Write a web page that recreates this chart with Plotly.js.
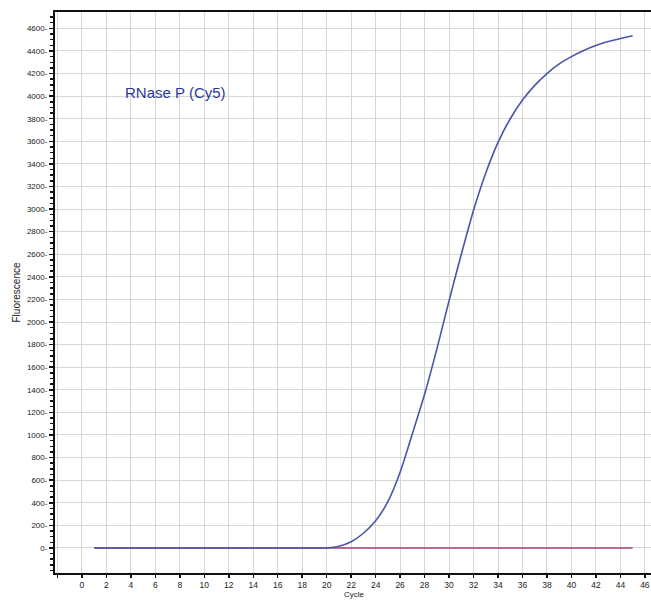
<!DOCTYPE html>
<html>
<head>
<meta charset="utf-8">
<script src="https://cdn.plot.ly/plotly-3.0.1.min.js"></script>
<style>html,body{margin:0;padding:0;background:#fff;}#chart{width:651px;height:600px;}</style>
</head>
<body>
<div id="chart"></div>
<script>
// Cycle numbers
const cycles = [1,2,3,4,5,6,7,8,9,10,11,12,13,14,15,16,17,18,19,20,21,22,23,24,25,26,27,28,29,30,31,32,33,34,35,36,37,38,39,40,41,42,43,44,45];
// RNase P (Cy5) sample fluorescence
const rnasepFluor = [0,0,0,0,0,0,0,0,0,0,0,0,0,0,0,0,0,0,0,0,15,55,130,240,410,670,1010,1360,1760,2190,2600,2990,3320,3590,3800,3965,4095,4200,4285,4350,4405,4448,4483,4510,4535];
// Negative control fluorescence
const controlFluor = [0,0,0,0,0,0,0,0,0,0,0,0,0,0,0,0,0,0,0,0,0,0,0,0,0,0,0,0,0,0,0,0,0,0,0,0,0,0,0,0,0,0,0,0,0];
// Tick labels
const xTickVals = [-2,0,2,4,6,8,10,12,14,16,18,20,22,24,26,28,30,32,34,36,38,40,42,44,46];
const xTickText = ["","0","2","4","6","8","10","12","14","16","18","20","22","24","26","28","30","32","34","36","38","40","42","44","46"];
const yTickVals = [0,200,400,600,800,1000,1200,1400,1600,1800,2000,2200,2400,2600,2800,3000,3200,3400,3600,3800,4000,4200,4400,4600];
const yTickText = yTickVals.map(v => v + "-");
const labelText = "RNase P (Cy5)";
const xTitle = "Cycle";
const yTitle = "Fluorescence";

const traces = [
  {x: cycles, y: controlFluor, type: 'scatter', mode: 'lines',
   line: {color: '#a8407a', width: 1.6}, hoverinfo: 'skip', showlegend: false},
  {x: cycles, y: rnasepFluor, type: 'scatter', mode: 'lines',
   line: {color: '#4a55a8', width: 1.6, shape: 'spline', smoothing: 0.6}, showlegend: false}
];

const fam = 'Liberation Sans, Arial, sans-serif';

const layout = {
  width: 651, height: 600,
  margin: {l: 55, r: 0, t: 12, b: 27},
  paper_bgcolor: '#fff', plot_bgcolor: '#fff',
  showlegend: false,
  xaxis: {
    range: [-2.2, 46.5],
    tickmode: 'array', tickvals: xTickVals, ticktext: xTickText,
    ticks: 'outside', ticklen: 3, tickwidth: 1.5, tickcolor: '#111',
    showline: true, linecolor: '#111', linewidth: 2, mirror: true,
    showgrid: true, gridcolor: '#d6d6d6', gridwidth: 1,
    zeroline: false, tickfont: {family: fam, size: 8.5, color: '#222'},
    ticklabelstandoff: 0, automargin: false
  },
  yaxis: {
    range: [-222, 4745],
    tickmode: 'array', tickvals: yTickVals, ticktext: yTickText,
    ticks: 'outside', ticklen: 4, tickwidth: 1.5, tickcolor: '#111',
    minor: {dtick: 50, tick0: 0, ticks: 'outside', ticklen: 3, tickcolor: '#111', showgrid: false},
    showline: true, linecolor: '#111', linewidth: 2,
    showgrid: true, gridcolor: '#d6d6d6', gridwidth: 1,
    zeroline: false, tickfont: {family: fam, size: 8, color: '#222'},
    ticklabelstandoff: 0, automargin: false,
    title: {text: yTitle, font: {family: fam, size: 10, color: '#222'}, standoff: 4}
  },
  shapes: [
    {type: 'rect', xref: 'paper', yref: 'paper', x0: 0.0386, x1: 0.4245, y0: 0.811, y1: 0.9144,
     fillcolor: '#ffffff', line: {width: 0}, layer: 'below'}
  ],
  annotations: [
    {text: labelText, xref: 'paper', yref: 'paper', x: 0.203, y: 0.857,
     showarrow: false, xanchor: 'center', yanchor: 'middle',
     font: {family: fam, size: 15, color: '#2a389c'}},
    {text: xTitle, xref: 'paper', yref: 'paper', x: 0.503, y: -0.0481,
     showarrow: false, xanchor: 'center', yanchor: 'bottom', borderpad: 0,
     font: {family: fam, size: 8, color: '#222'}}
  ]
};

Plotly.newPlot('chart', traces, layout, {displayModeBar: false, staticPlot: true});
</script>
</body>
</html>
